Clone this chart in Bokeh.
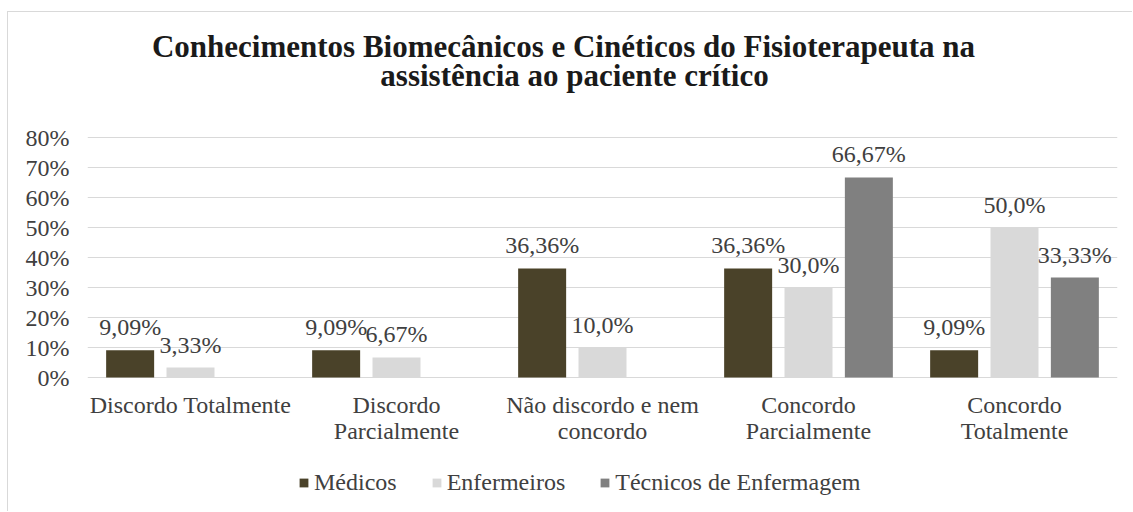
from bokeh.plotting import figure
from bokeh.models import (ColumnDataSource, FactorRange, Range1d, FixedTicker,
                          PrintfTickFormatter, Legend, LegendItem, Label)
from bokeh.transform import dodge
from bokeh.core.properties import value
from bokeh.embed import file_html
from bokeh.resources import INLINE

# ---- data ----
categories = ["Discordo Totalmente", "Discordo Parcialmente", "Não discordo e nem concordo",
              "Concordo Parcialmente", "Concordo Totalmente"]
category_labels = ["Discordo Totalmente", "Discordo\nParcialmente", "Não discordo e nem\nconcordo",
                   "Concordo\nParcialmente", "Concordo\nTotalmente"]
series_names = ["Médicos", "Enfermeiros", "Técnicos de Enfermagem"]
medicos = [9.09, 9.09, 36.36, 36.36, 9.09]
enfermeiros = [3.33, 6.67, 10.0, 30.0, 50.0]
tecnicos = [None, None, None, 66.67, 33.33]
medicos_lbl = ["9,09%", "9,09%", "36,36%", "36,36%", "9,09%"]
enfermeiros_lbl = ["3,33%", "6,67%", "10,0%", "30,0%", "50,0%"]
tecnicos_lbl = ["", "", "", "66,67%", "33,33%"]
y_ticks = [0, 10, 20, 30, 40, 50, 60, 70, 80]
title_lines = ["Conhecimentos Biomecânicos e Cinéticos do Fisioterapeuta na",
               "assistência ao paciente crítico"]

colors = ["#4a4229", "#d9d9d9", "#808080"]
FONT = "Liberation Serif"
TXT = "#404040"

# canvas placed at page (8, 12) inside a thin light-gray chart border
W, H = 1125, 500
LEFT, RIGHT = 79, 16
PX_PER_UNIT = 3.0          # 30 px per 10 %
ZERO_Y = 365               # canvas y of the 0 % line
y_top = (ZERO_Y - 0) / PX_PER_UNIT
y_bot = -(H - ZERO_Y) / PX_PER_UNIT

p = figure(x_range=FactorRange(*categories, range_padding=0), y_range=Range1d(y_bot, y_top),
           width=W, height=H, output_backend="svg", toolbar_location=None,
           x_axis_location=None,
           min_border_left=LEFT, min_border_right=RIGHT, min_border_top=0,
           min_border_bottom=0)
p.outline_line_color = None
p.background_fill_color = "white"
p.border_fill_color = "white"
p.styles = {"margin-left": "7px", "margin-top": "11px",
            "border-left": "1px solid #d9d9d9", "border-top": "1px solid #d9d9d9"}

series = [medicos, enfermeiros, tecnicos]
labels = [medicos_lbl, enfermeiros_lbl, tecnicos_lbl]
offsets = [-0.293, 0.0, 0.293]
bar_w = 0.233

renderers = []
for name, vals, lbls, col, off in zip(series_names, series, labels, colors, offsets):
    src = ColumnDataSource(dict(cat=categories, val=[v if v is not None else 0 for v in vals],
                                lbl=lbls))
    r = p.vbar(x=dodge("cat", off, range=p.x_range), top="val", width=bar_w, source=src,
               fill_color=col, line_color=None)
    renderers.append(r)
    p.text(x=dodge("cat", off, range=p.x_range), y="val", text="lbl", source=src,
           text_align="center", text_baseline="alphabetic", y_offset=-23,
           text_font=value(FONT), text_font_size="24px", text_color=TXT)

# category labels under the baseline
cat_src = ColumnDataSource(dict(cat=categories, lbl=category_labels, y=[0] * len(categories)))
p.text(x="cat", y="y", text="lbl", source=cat_src, text_align="center", text_baseline="top",
       y_offset=14, text_font=value(FONT), text_font_size="24px", text_color=TXT,
       text_line_height=1.0)

# y axis
p.yaxis.ticker = FixedTicker(ticks=y_ticks)
p.yaxis.formatter = PrintfTickFormatter(format="%d%%")
p.yaxis.axis_line_color = None
p.yaxis.major_tick_line_color = None
p.yaxis.minor_tick_line_color = None
p.yaxis.major_tick_out = 0
p.yaxis.major_tick_in = 0
p.yaxis.minor_tick_out = 0
p.yaxis.major_label_standoff = 18
p.yaxis.major_label_text_font = FONT
p.yaxis.major_label_text_font_size = "24px"
p.yaxis.major_label_text_color = TXT

p.xgrid.grid_line_color = None
p.ygrid.grid_line_color = "#d9d9d9"
p.ygrid.ticker = FixedTicker(ticks=y_ticks)

# legend
legend = Legend(items=[LegendItem(label=n, renderers=[r]) for n, r in zip(series_names, renderers)],
                orientation="horizontal", location=(211, 16),
                label_text_font=FONT, label_text_font_size="24px", label_text_color=TXT,
                glyph_width=11, glyph_height=11, label_standoff=5, spacing=34,
                padding=0, margin=0, border_line_color=None, background_fill_alpha=0)
p.add_layout(legend, "center")

# title (screen units relative to frame bottom-left; frame left is at page x 87)
for line, cx, base in zip(title_lines, [563, 574], [46, 75]):
    p.add_layout(Label(x=cx - 87, y=512 - base, x_units="screen", y_units="screen",
                       text=line, text_align="center", text_baseline="alphabetic",
                       text_font=FONT, text_font_style="bold", text_font_size="31px",
                       text_color="#1a1a1a"))

open("out.html", "w").write(file_html(p, INLINE))
